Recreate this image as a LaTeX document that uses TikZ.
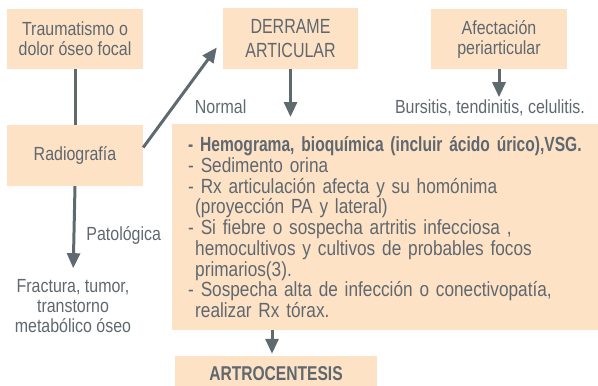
\documentclass[tikz,border=0pt]{standalone}
\usepackage{fontspec}
\setmainfont{Liberation Sans}[FakeStretch=0.84, BoldFeatures={FakeStretch=0.76}]
\newfontfamily\capsfont{Liberation Sans}[FakeStretch=0.78]
\usepackage{tikz}
\usetikzlibrary{arrows.meta}
\usetikzlibrary{calc}

\definecolor{peach}{HTML}{FDE2C6}
\definecolor{inkgray}{HTML}{5F686E}
\definecolor{linegray}{HTML}{5F6A70}

\begin{document}
\begin{tikzpicture}[x = 1pt, y = -1pt,
    box/.style = {fill = peach, inner sep = 0, align = center,
        minimum width = 136pt, minimum height = 60pt,
        font = \fontsize{19}{20}\selectfont},
    txt/.style = {inner sep = 0, align = center,
        font = \fontsize{19}{20}\selectfont},
    link/.style = {line width = 3pt, linegray},
    arr/.style = {link, -{Triangle[width = 13pt, length = 15pt]}}]
    \color{inkgray}
    \useasboundingbox (0, 0) rectangle (598, 386);

    %% boxes
    \node[box] (trauma) at (75, 39) {Traumatismo o\\dolor óseo focal};
    \node[box, minimum width = 135pt, minimum height = 61pt,
        font = \capsfont\fontsize{20.5}{24}\selectfont]
        (derrame) at (290.5, 38.5) {DERRAME\\ARTICULAR};
    \node[box] (afect) at (499, 39) {Afectación\\periarticular};
    \node[box, minimum height = 61pt] (radio) at (75, 155.5) {Radiografía};
    \node[box, anchor = north west, minimum height = 206pt,
        text width = 430pt, inner xsep = 16pt, align = left,
        font = \fontsize{20.5}{20.75}\selectfont]
        (exams) at (172, 124) {\textbf{- Hemograma, bioquímica (incluir ácido úrico),VSG.}\\
        - Sedimento orina\\
        - Rx articulación afecta y su homónima\\
        \hspace*{7pt}(proyección PA y lateral)\\
        - Si fiebre o sospecha artritis infecciosa ,\\
        \hspace*{7pt}hemocultivos y cultivos de probables focos\\
        \hspace*{7pt}primarios(3).\\
        - Sospecha alta de infección o conectivopatía,\\
        \hspace*{7pt}realizar Rx tórax.};
    \node[box, minimum width = 202pt, minimum height = 35pt,
        font = \capsfont\bfseries\fontsize{20}{24}\selectfont]
        (artro) at (276, 373.5) {ARTROCENTESIS};

    %% outcomes
    \node[txt] (fractura) at (73, 306) {Fractura, tumor,\\transtorno\\metabólico óseo};
    \node[txt] (bursitis) at (490, 107.5) {Bursitis, tendinitis, celulitis.};

    %% connectors
    \draw[link] (trauma.south) -- (radio.north);
    \draw[arr, shorten >= 11pt] (radio.south) -- (fractura.north)
        node[txt, pos = 0.53, anchor = west, xshift = 11pt] (pato) {Patológica};
    \draw[arr] ($(radio.east) + (0, -8)$) -- ($(derrame.west) + (-6, 9)$)
        node[txt, pos = 0.41, anchor = west, xshift = 20pt] (normal) {Normal};
    \draw[arr, shorten >= 7pt] (derrame.south) -- (derrame.south |- exams.north);
    \draw[arr, shorten >= 2pt] (afect.south) -- (afect.south |- bursitis.north);
    \draw[arr, shorten >= 2pt] (exams.south -| 272, 0) -- (artro.north -| 272, 0);
\end{tikzpicture}
\end{document}
